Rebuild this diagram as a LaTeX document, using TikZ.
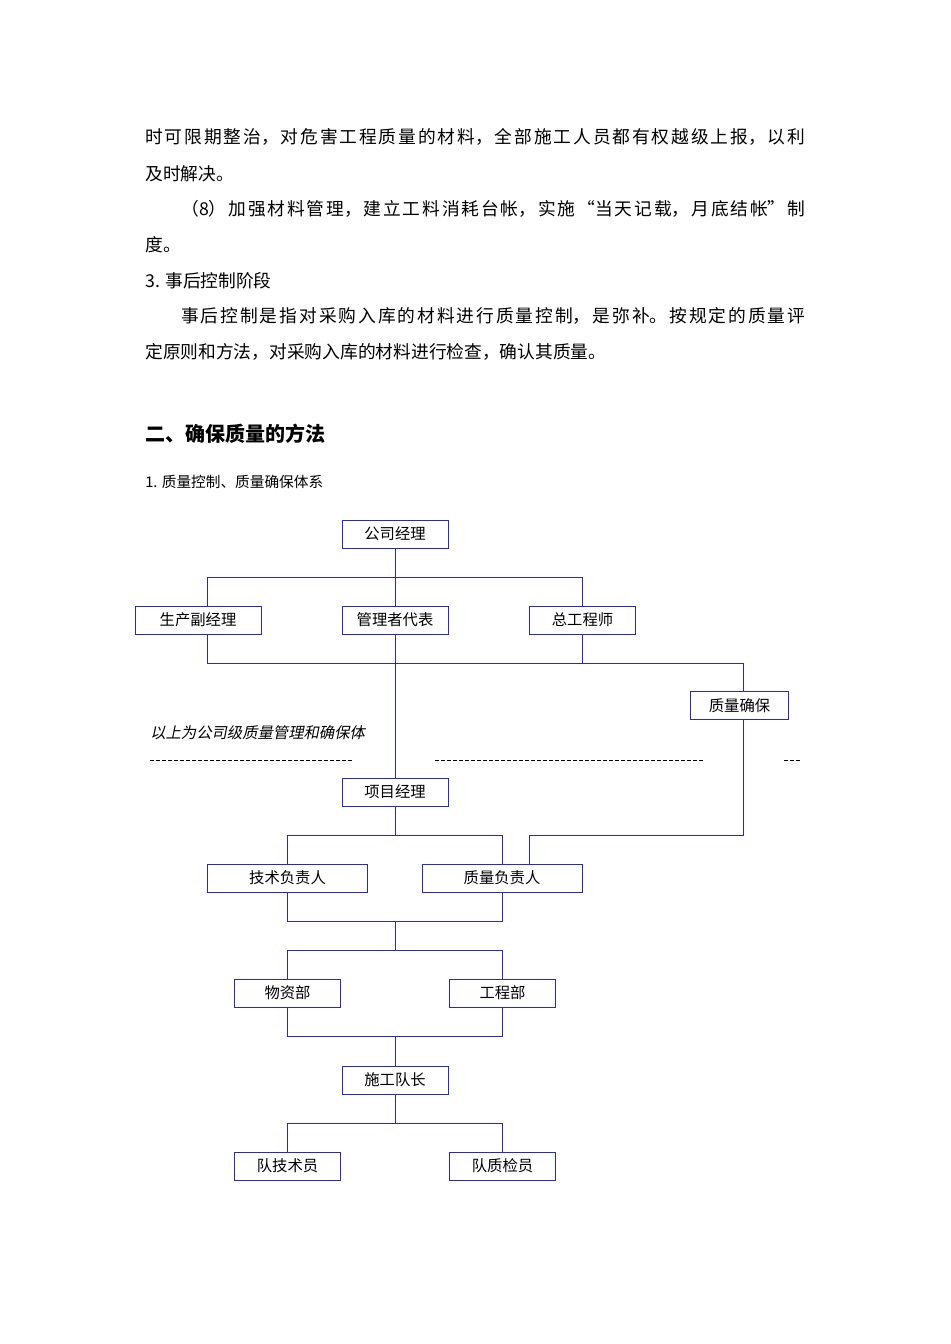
\documentclass[tikz,border=0pt]{standalone}
\usepackage{fontspec}
\setmainfont{Noto Sans CJK SC}
\newfontfamily\slcjk[FakeSlant=0.2]{Noto Sans CJK SC}
\XeTeXlinebreaklocale "zh"
\XeTeXlinebreakskip=0pt plus 3pt
\definecolor{ln}{RGB}{40,40,200}
\begin{document}
\begin{tikzpicture}[x=0.75pt,y=-0.75pt,
  bx/.style={draw=ln,line width=0.6pt,minimum height=21pt,font=\fontsize{11.5pt}{13pt}\selectfont,inner sep=0pt},
  ln/.style={draw=ln,line width=0.6pt},
  tl/.style={anchor=west,inner sep=0pt,font=\fontsize{13.3pt}{15pt}\selectfont}]
\useasboundingbox (0,0) rectangle (950,1344);
\def\FW#1{\parbox{495pt}{\parindent=0pt\parfillskip=0pt #1}}
\node[tl] (t1) at (145,137) {\FW{时可限期整治，对危害工程质量的材料，全部施工人员都有权越级上报，以利}};
\node[tl] (t2) at (145,174) {及时解决。};
\node[tl] (t3) at (145,209) {\FW{\hspace*{27pt}（8）加强材料管理，建立工料消耗台帐，实施“当天记载，月底结帐”制}};
\node[tl] (t4) at (145,245) {度。};
\node[tl] (t5) at (145,281) {3. 事后控制阶段};
\node[tl] (t6) at (145,316) {\FW{\hspace*{27pt}事后控制是指对采购入库的材料进行质量控制，是弥补。按规定的质量评}};
\node[tl] (t7) at (145,352) {定原则和方法，对采购入库的材料进行检查，确认其质量。};
\node[tl,font=\fontsize{15pt}{17pt}\bfseries\selectfont] (h) at (145,434) {二、确保质量的方法};
\node[tl,font=\fontsize{11pt}{13pt}\selectfont] (h1) at (145,482) {1. 质量控制、质量确保体系};
\node[tl,font=\fontsize{11.5pt}{13pt}\slcjk] (it) at (150,733) {以上为公司级质量管理和确保体};
\draw[line width=0.5pt,dash pattern=on 3pt off 1.5pt] (150,760) -- (353,760) (435,760) -- (705,760) (784,760) -- (802,760);

\node[bx,minimum width=79.5pt] (gs) at (395,534) {公司经理};
\node[bx,minimum width=94.5pt] (sc) at (198,620) {生产副经理};
\node[bx,minimum width=79.5pt] (gl) at (395,620) {管理者代表};
\node[bx,minimum width=80pt] (zg) at (582.5,620) {总工程师};
\node[bx,minimum width=74pt] (zb) at (739.5,705.5) {质量确保};
\node[bx,minimum width=79.5pt] (xm) at (395,792) {项目经理};
\node[bx,minimum width=120.5pt] (js) at (287.5,878) {技术负责人};
\node[bx,minimum width=120pt] (zl) at (502,878) {质量负责人};
\node[bx,minimum width=80pt] (wz) at (287.5,993) {物资部};
\node[bx,minimum width=80pt] (gc) at (502.5,993) {工程部};
\node[bx,minimum width=79.5pt] (sg) at (395,1080) {施工队长};
\node[bx,minimum width=80pt] (dj) at (287.5,1166) {队技术员};
\node[bx,minimum width=80pt] (dz) at (502.5,1166) {队质检员};

\draw[ln] (gs.south) -- (395,577);
\draw[ln] (sc.north -| 207,0) |- (582,577) -- (zg.north -| 582,0);
\draw[ln] (395,577) -- (gl.north);
\draw[ln] (sc.south -| 207,0) |- (743,663) -- (zb.north -| 743,0);
\draw[ln] (zg.south -| 582,0) -- (582,663);
\draw[ln] (gl.south) -- (xm.north);
\draw[ln] (zb.south -| 743,0) |- (529,835) -- (zl.north -| 529,0);
\draw[ln] (xm.south) -- (395,835);
\draw[ln] (js.north) |- (502,835) -- (502,864);
\draw[ln] (js.south) |- (zl.south |- 0,921) -- (zl.south);
\draw[ln] (395,921) -- (395,950);
\draw[ln] (wz.north) |- (gc.north |- 0,950) -- (gc.north);
\draw[ln] (wz.south) |- (gc.south |- 0,1036) -- (gc.south);
\draw[ln] (395,1036) -- (sg.north);
\draw[ln] (sg.south) -- (395,1123);
\draw[ln] (dj.north) |- (dz.north |- 0,1123) -- (dz.north);
\end{tikzpicture}
\end{document}
